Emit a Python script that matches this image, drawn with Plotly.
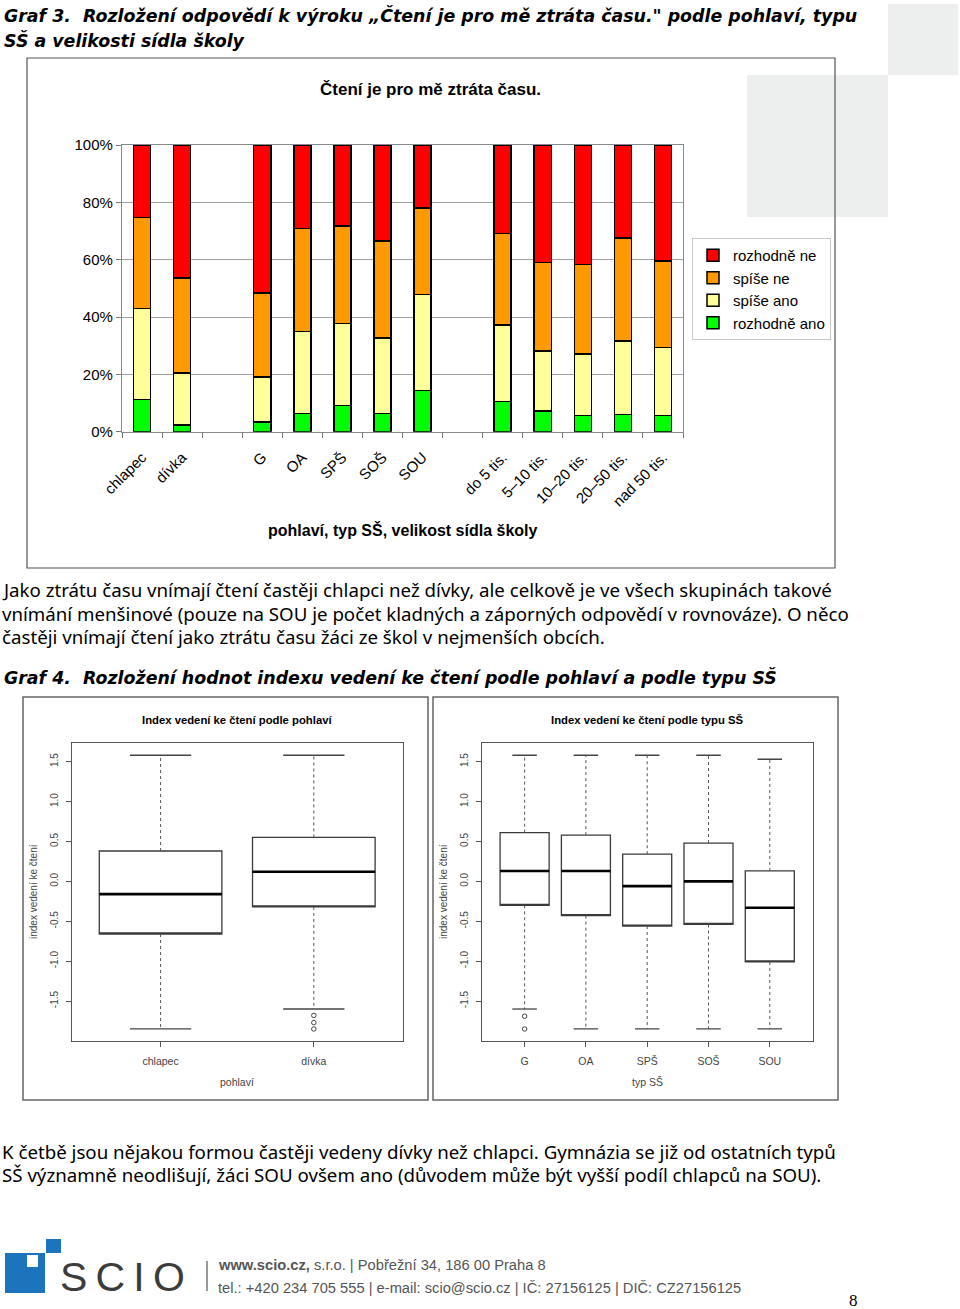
import plotly.graph_objects as go

W, H = 960, 1309


def fx(px):
    return px / W


def fy(py):
    return 1 - py / H


# ____________________________________________________________________________________
# data: Graf 3 (shares in %, bottom to top)
categories = ["chlapec", "dívka", " ", "G", "OA", "SPŠ", "SOŠ", "SOU", "  ",
              "do 5 tis.", "5–10 tis.", "10–20 tis.", "20–50 tis.", "nad 50 tis."]
rozhodne_ano = [11.3, 2.4, None, 3.4, 6.3, 9.2, 6.4, 14.3, None, 10.5, 7.3, 5.7, 6.0, 5.7]
spise_ano = [31.7, 18.1, None, 15.7, 28.6, 28.6, 26.3, 33.5, None, 26.7, 20.8, 21.4, 25.6, 23.7]
spise_ne = [31.8, 33.1, None, 29.3, 35.9, 33.9, 33.9, 30.2, None, 31.9, 30.9, 31.2, 36.0, 30.1]
rozhodne_ne = [25.2, 46.4, None, 51.6, 29.2, 28.3, 33.4, 22.0, None, 30.9, 41.0, 41.7, 32.4, 40.5]
pct_ticks = [0, 20, 40, 60, 80, 100]
pct_labels = ["0%", "20%", "40%", "60%", "80%", "100%"]

# data: Graf 4 (box plot statistics)
sex_groups = ["chlapec", "dívka"]
sex_q1 = [-0.66, -0.32]
sex_med = [-0.16, 0.12]
sex_q3 = [0.38, 0.55]
sex_lo = [-1.85, -1.60]
sex_hi = [1.58, 1.58]
sex_out_group = ["dívka", "dívka", "dívka"]
sex_out = [-1.68, -1.77, -1.85]

type_groups = ["G", "OA", "SPŠ", "SOŠ", "SOU"]
type_q1 = [-0.30, -0.43, -0.56, -0.54, -1.01]
type_med = [0.13, 0.13, -0.06, 0.0, -0.33]
type_q3 = [0.61, 0.58, 0.34, 0.48, 0.13]
type_lo = [-1.60, -1.85, -1.85, -1.85, -1.85]
type_hi = [1.58, 1.58, 1.58, 1.58, 1.53]
type_out_group = ["G", "G"]
type_out = [-1.69, -1.85]

index_ticks = [-1.5, -1.0, -0.5, 0.0, 0.5, 1.0, 1.5]

ARIAL = "Liberation Sans, Arial, sans-serif"
BODY = "Noto Sans, DejaVu Sans, sans-serif"
HEADF = "DejaVu Sans, sans-serif"

fig = go.Figure()

# ____________________________________________________________________________________
# stacked bars (legendrank puts "rozhodně ne" on top of the legend)
series = [
    ("rozhodně ano", rozhodne_ano, "#00FF00", 4),
    ("spíše ano", spise_ano, "#FFFF99", 3),
    ("spíše ne", spise_ne, "#FF9900", 2),
    ("rozhodně ne", rozhodne_ne, "#FF0000", 1),
]
for name, vals, color, rank in series:
    fig.add_trace(go.Bar(
        x=categories, y=vals, name=name, legendgroup=name, legendrank=rank,
        marker=dict(color=color, line=dict(color="black", width=1.5)),
        xaxis="x", yaxis="y",
    ))


# ____________________________________________________________________________________
# R-like box plots: box body, thick median, dashed whiskers, caps, outliers
def add_boxes(groups, q1, med, q3, lo, hi, out_group, out_vals, xa, ya):
    pos = [i + 1 for i in range(len(groups))]
    fig.add_trace(go.Box(
        x=pos, q1=q1, median=q1, q3=q3, lowerfence=q1, upperfence=q3,
        width=0.8, whiskerwidth=0, fillcolor="white",
        line=dict(color="#3a3a3a", width=1.3),
        xaxis=xa, yaxis=ya, showlegend=False, hoverinfo="skip",
    ))
    mx, my, wx, wy, cx, cy = [], [], [], [], [], []
    for p, a, m, b, l, h in zip(pos, q1, med, q3, lo, hi):
        mx += [p - 0.4, p + 0.4, None]
        my += [m, m, None]
        wx += [p, p, None, p, p, None]
        wy += [b, h, None, a, l, None]
        cx += [p - 0.2, p + 0.2, None, p - 0.2, p + 0.2, None]
        cy += [h, h, None, l, l, None]
    fig.add_trace(go.Scatter(x=wx, y=wy, mode="lines", xaxis=xa, yaxis=ya,
                             line=dict(color="#555", width=1, dash="3px,3px"),
                             showlegend=False, hoverinfo="skip"))
    fig.add_trace(go.Scatter(x=cx, y=cy, mode="lines", xaxis=xa, yaxis=ya,
                             line=dict(color="#444", width=1.3),
                             showlegend=False, hoverinfo="skip"))
    fig.add_trace(go.Scatter(x=mx, y=my, mode="lines", xaxis=xa, yaxis=ya,
                             line=dict(color="black", width=2.6),
                             showlegend=False, hoverinfo="skip"))
    ox = [groups.index(g) + 1 for g in out_group]
    fig.add_trace(go.Scatter(x=ox, y=out_vals, mode="markers", xaxis=xa, yaxis=ya,
                             marker=dict(symbol="circle-open", size=4.5,
                                         color="#444", line=dict(width=1)),
                             showlegend=False, hoverinfo="skip"))
    return pos


sex_pos = add_boxes(sex_groups, sex_q1, sex_med, sex_q3, sex_lo, sex_hi,
                    sex_out_group, sex_out, "x2", "y2")
type_pos = add_boxes(type_groups, type_q1, type_med, type_q3, type_lo, type_hi,
                     type_out_group, type_out, "x3", "y3")

# ____________________________________________________________________________________
# axes
box_y = dict(range=[-1.997, 1.73], showgrid=False, zeroline=False, automargin=False,
             showline=True, mirror=True, linecolor="#555", linewidth=1.2,
             ticks="outside", ticklen=5, tickcolor="#555",
             tickvals=index_ticks, ticktext=["%.1f" % v for v in index_ticks],
             tickangle=-90, tickfont=dict(family=ARIAL, size=10, color="#444"),
             ticklabelstandoff=4)
box_x = dict(showgrid=False, zeroline=False, showline=True, mirror=True, automargin=False,
             linecolor="#555", linewidth=1.2, ticks="outside", ticklen=5,
             tickcolor="#555", tickfont=dict(family=ARIAL, size=10.5, color="#444"),
             ticklabelstandoff=6)

fig.update_layout(
    width=W, height=H, margin=dict(l=0, r=0, t=0, b=0, autoexpand=False),
    paper_bgcolor="white", plot_bgcolor="white",
    barmode="stack", bargap=0.575,
    xaxis=dict(domain=[fx(122), fx(683)], anchor="y", type="category", automargin=False,
               categoryorder="array", categoryarray=categories,
               tickson="boundaries", ticks="outside", ticklen=5, tickcolor="#777",
               tickangle=-45, ticklabelstandoff=10,
               tickfont=dict(family=ARIAL, size=15, color="black"),
               showline=True, mirror=True, linecolor="#888", linewidth=1.2),
    yaxis=dict(domain=[fy(431.7), fy(145)], range=[0, 100], anchor="x", automargin=False,
               tickvals=pct_ticks, ticktext=pct_labels, ticks="outside", ticklen=5,
               tickcolor="#777", tickfont=dict(family=ARIAL, size=15, color="black"),
               showgrid=True, gridcolor="#a0a0a0", gridwidth=1, zeroline=False,
               showline=True, mirror=True, linecolor="#888", linewidth=1.2),
    xaxis2=dict(box_x, domain=[fx(71.7), fx(402.7)], anchor="y2", range=[0.42, 2.58],
                tickvals=sex_pos, ticktext=sex_groups),
    yaxis2=dict(box_y, domain=[fy(1040.7), fy(743.3)], anchor="x2"),
    xaxis3=dict(box_x, domain=[fx(481.7), fx(812.7)], anchor="y3", range=[0.3, 5.7],
                tickvals=type_pos, ticktext=type_groups),
    yaxis3=dict(box_y, domain=[fy(1040.7), fy(743.3)], anchor="x3"),
    legend=dict(x=fx(692), y=fy(238), xanchor="left", yanchor="top",
                traceorder="normal", tracegroupgap=2,
                bgcolor="white", bordercolor="#c8c8c8", borderwidth=1,
                font=dict(family=ARIAL, size=15, color="black"), itemwidth=30),
)

# ____________________________________________________________________________________
# shapes: decorative page squares, frames, logo (all in page pixels -> paper)
def rect(x0, y0, x1, y1, **kw):
    return dict(type="rect", xref="paper", yref="paper",
                x0=fx(x0), x1=fx(x1), y0=fy(y1), y1=fy(y0), **kw)


shapes = [
    rect(888, 4, 958, 75, fillcolor="#EDEEEE", line=dict(width=0), layer="below"),
    rect(747, 75, 888, 217, fillcolor="#EDEEEE", line=dict(width=0), layer="below"),
    rect(27, 58, 835, 568, line=dict(color="#555", width=1.2)),
    rect(23, 697, 428, 1100, line=dict(color="#666", width=1.5)),
    rect(433, 697, 838, 1100, line=dict(color="#666", width=1.5)),
    # SCIO logo
    rect(5, 1253, 45, 1293, fillcolor="#1C75BC", line=dict(width=0)),
    rect(27, 1255, 38, 1267, fillcolor="white", line=dict(width=0)),
    rect(46, 1239, 61, 1253, fillcolor="#1C75BC", line=dict(width=0)),
    dict(type="line", xref="paper", yref="paper", x0=fx(207), x1=fx(207),
         y0=fy(1291), y1=fy(1261), line=dict(color="#555", width=1.2)),
]
fig.update_layout(shapes=shapes)

# ____________________________________________________________________________________
# texts
ann = []


def text(x, y, s, size, family=BODY, color="black", xanchor="left", angle=0):
    ann.append(dict(x=fx(x), y=fy(y), xref="paper", yref="paper", text=s,
                    showarrow=False, xanchor=xanchor, yanchor="middle",
                    textangle=angle, font=dict(family=family, size=size, color=color)))


HEADSZ = 17.4
text(2, 15, "<b><i>Graf 3.  Rozložení odpovědí k výroku „Čtení je pro mě ztráta času.\" "
            "podle pohlaví, typu</i></b>", HEADSZ, HEADF)
text(2, 40, "<b><i>SŠ a velikosti sídla školy</i></b>", HEADSZ, HEADF)

text(430, 90, "<b>Čtení je pro mě ztráta času.</b>", 17, ARIAL, xanchor="center")
text(402.5, 530, "<b>pohlaví, typ SŠ, velikost sídla školy</b>", 16, ARIAL, xanchor="center")

BODYSZ = 18.7
text(0, 589, "Jako ztrátu času vnímají čtení častěji chlapci než dívky, ale celkově je ve všech "
             "skupinách takové", BODYSZ)
text(0, 613, "vnímání menšinové (pouze na SOU je počet kladných a záporných odpovědí v rovnováze). "
             "O něco", BODYSZ)
text(0, 637, "častěji vnímají čtení jako ztrátu času žáci ze škol v nejmenších obcích.", BODYSZ)
text(2, 677, "<b><i>Graf 4.  Rozložení hodnot indexu vedení ke čtení podle pohlaví a podle "
             "typu SŠ</i></b>", HEADSZ, HEADF)

# box plot titles and axis titles
text(237, 720, "<b>Index vedení ke čtení podle pohlaví</b>", 11.3, ARIAL, xanchor="center")
text(647, 720, "<b>Index vedení ke čtení podle typu SŠ</b>", 11.3, ARIAL, xanchor="center")
text(237, 1082, "pohlaví", 10.5, ARIAL, "#444", xanchor="center")
text(647, 1082, "typ SŠ", 10.5, ARIAL, "#444", xanchor="center")
text(33, 892, "index vedení ke čtení", 10, ARIAL, "#444", xanchor="center", angle=-90)
text(443, 892, "index vedení ke čtení", 10, ARIAL, "#444", xanchor="center", angle=-90)

text(0, 1151, "K četbě jsou nějakou formou častěji vedeny dívky než chlapci. Gymnázia se již "
              "od ostatních typů", BODYSZ)
text(0, 1174, "SŠ významně neodlišují, žáci SOU ovšem ano (důvodem může být vyšší podíl "
              "chlapců na SOU).", BODYSZ)

# footer
text(58, 1277, "S\u2009C\u2009I\u2009O", 41, ARIAL, "#3c3c3c")
text(216, 1265, "<b>www.scio.cz,</b> s.r.o. | Pobřežní 34, 186 00 Praha 8", 14.7, ARIAL, "#555")
text(216, 1288, "tel.: +420 234 705 555 | e-mail: scio@scio.cz | IČ: 27156125 | "
                "DIČ: CZ27156125", 14.7, ARIAL, "#555")
text(853, 1300, "8", 17, "Liberation Serif, serif", "black", xanchor="center")

fig.update_layout(annotations=ann)

fig.write_html("out.html", config={"displayModeBar": False},
               post_script="document.body.style.margin='0';")
